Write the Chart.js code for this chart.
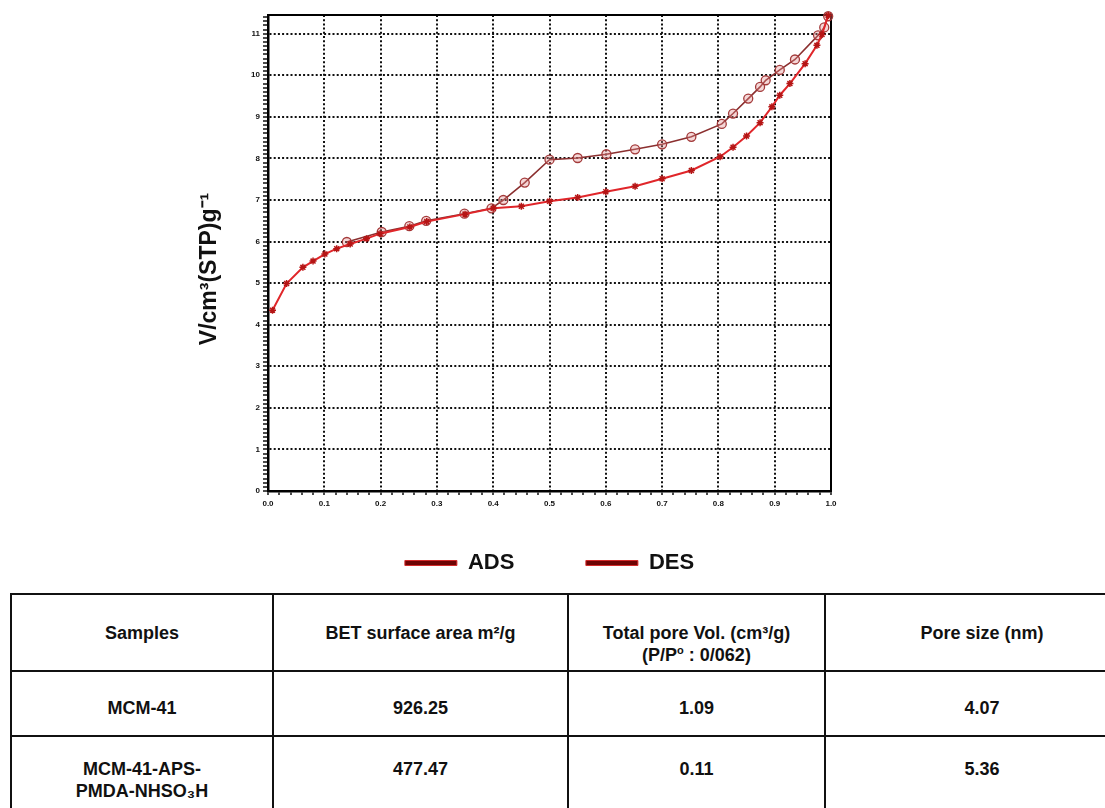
<!DOCTYPE html>
<html>
<head>
<meta charset="utf-8">
<script src="https://cdn.jsdelivr.net/npm/chart.js@4.4.0/dist/chart.umd.min.js"></script>
<style>
    body {
        margin: 0;
        width: 1105px;
        height: 808px;
        overflow: hidden;
        position: relative;
        background: #fff;
        font-family: "Liberation Sans", Arial, sans-serif;
    }
    #chartBox { position: absolute; left: 0; top: 0; }
    #poreTable {
        position: absolute;
        left: 10px;
        top: 593px;
        width: 1120px;
        border-collapse: collapse;
        table-layout: fixed;
    }
    #poreTable td {
        border: 2px solid #111;
        text-align: center;
        vertical-align: top;
        font-weight: bold;
        font-size: 18px;
        line-height: 22px;
        color: #111;
        padding: 0;
    }
    #poreTable sup, #poreTable sub { line-height: 0; font-size: 11px; }
</style>
</head>
<body>
<div id="chartBox"><canvas id="isoChart" width="1105" height="584"></canvas></div>
<table id="poreTable"></table>
<script>
// isotherm points (P/P0, volume)
const adsP = [0.008, 0.033, 0.062, 0.08, 0.101, 0.122, 0.146, 0.175, 0.199, 0.252, 0.282, 0.35, 0.40, 0.45, 0.50, 0.55, 0.60, 0.652, 0.70, 0.752, 0.803, 0.826, 0.85, 0.874, 0.895, 0.909, 0.927, 0.954, 0.975, 0.984, 0.995];
const adsV = [4.35, 4.99, 5.38, 5.53, 5.70, 5.83, 5.94, 6.07, 6.19, 6.35, 6.48, 6.66, 6.80, 6.85, 6.97, 7.06, 7.20, 7.33, 7.51, 7.71, 8.04, 8.27, 8.54, 8.86, 9.24, 9.52, 9.80, 10.28, 10.72, 10.98, 11.44];
const desP = [0.995, 0.988, 0.977, 0.936, 0.909, 0.884, 0.874, 0.853, 0.826, 0.806, 0.752, 0.70, 0.652, 0.601, 0.55, 0.50, 0.456, 0.418, 0.397, 0.349, 0.281, 0.251, 0.202, 0.14];
const desV = [11.42, 11.15, 10.96, 10.38, 10.13, 9.88, 9.72, 9.44, 9.08, 8.83, 8.52, 8.34, 8.22, 8.10, 8.01, 7.97, 7.42, 7.00, 6.80, 6.67, 6.50, 6.37, 6.23, 5.99];

const seriesLabels = ['ADS', 'DES'];
const yTitle = 'V/cm³(STP)g⁻¹';

// table below the plot
const tableHead = ['Samples', 'BET surface area m²/g', 'Total pore Vol. (cm³/g)<br>(P/P<sup>o</sup> : 0/062)', 'Pore size (nm)'];
const samples = ['MCM-41', 'MCM-41-APS-<br>PMDA-NHSO₃H'];
const betArea = ['926.25', '477.47'];
const poreVol = ['1.09', '0.11'];
const poreSize = ['4.07', '5.36'];

const isMajor = (v, step) => Math.abs(v / step - Math.round(v / step)) < 1e-6;
const toPoints = (xs, ys) => xs.map((x, i) => ({x, y: ys[i]}));
const pad = n => '\u00a0'.repeat(n);

const dotted = {display: true, color: '#000', width: 2.5, dash: [2, 2.2]};
const tickFont = {size: 8, weight: 'bold', family: '"Liberation Sans", Arial'};

const gridFor = step => ({
    color: c => (c.tick && isMajor(c.tick.value, step)) ? '#111' : 'rgba(0,0,0,0)',
    lineWidth: 2,
    tickColor: '#111',
    tickWidth: 1.5
});

new Chart(document.getElementById('isoChart'), {
    type: 'scatter',
    data: {
        datasets: [{
            label: seriesLabels[0],
            data: toPoints(adsP, adsV),
            showLine: true,
            borderColor: '#e0262a',
            backgroundColor: '#6e0404',
            borderWidth: 2,
            pointStyle: 'star',
            pointRadius: 3.5,
            pointBorderColor: '#b51515',
            pointBackgroundColor: '#b51515',
            pointBorderWidth: 1.5,
            clip: false,
            xAxisID: 'x',
            yAxisID: 'y'
        }, {
            label: seriesLabels[1],
            data: toPoints(desP, desV),
            showLine: true,
            borderColor: '#8b2f2f',
            backgroundColor: '#6e0404',
            borderWidth: 1.6,
            pointStyle: 'circle',
            pointRadius: 4.5,
            pointBorderColor: '#a33a3a',
            pointBackgroundColor: 'rgba(225,140,140,0.35)',
            pointBorderWidth: 1.3,
            clip: false,
            xAxisID: 'x',
            yAxisID: 'y'
        }]
    },
    options: {
        responsive: false,
        animation: false,
        devicePixelRatio: 1,
        layout: {padding: {left: 190, right: 274, top: 15, bottom: 0}},
        scales: {
            x: {
                type: 'linear',
                position: 'bottom',
                min: 0,
                max: 1,
                bounds: 'data',
                afterFit: s => { s.height = 20; },
                ticks: {
                    stepSize: 0.02,
                    autoSkip: false,
                    maxRotation: 0,
                    includeBounds: false,
                    padding: 4,
                    font: tickFont,
                    color: '#111',
                    callback: v => isMajor(v, 0.1) ? v.toFixed(1) : ''
                },
                grid: {...gridFor(0.1), tickLength: 4},
                border: dotted
            },
            y: {
                type: 'linear',
                position: 'left',
                min: 0,
                max: 11.45,
                bounds: 'data',
                afterFit: s => { s.width = 78; },
                title: {
                    display: true,
                    text: yTitle + pad(5),
                    color: '#111',
                    font: {size: 23, weight: 'bold', family: '"Liberation Sans", Arial'},
                    padding: {top: 6, bottom: 0}
                },
                ticks: {
                    stepSize: 0.1,
                    autoSkip: false,
                    includeBounds: false,
                    padding: 3,
                    font: tickFont,
                    color: '#111',
                    callback: v => isMajor(v, 1) ? String(Math.round(v)) : ''
                },
                grid: {...gridFor(1), tickLength: 5},
                border: dotted
            },
            x2: {
                type: 'linear',
                position: 'top',
                afterFit: s => { s.height = 0; },
                ticks: {display: false},
                grid: {drawOnChartArea: false, drawTicks: false},
                border: {display: true, color: '#000', width: 2}
            },
            y2: {
                type: 'linear',
                position: 'right',
                afterFit: s => { s.width = 0; },
                ticks: {display: false},
                grid: {drawOnChartArea: false, drawTicks: false},
                border: {display: true, color: '#000', width: 2}
            }
        },
        plugins: {
            tooltip: {enabled: false},
            legend: {
                position: 'bottom',
                fullSize: false,
                labels: {
                    boxWidth: 52,
                    boxHeight: 5,
                    padding: 41,
                    color: '#111',
                    font: {size: 22, weight: 'bold', family: '"Liberation Sans", Arial'},
                    generateLabels: chart => Chart.defaults.plugins.legend.labels.generateLabels(chart)
                        .map((item, i) => ({
                            ...item,
                            text: i === 0 ? item.text + pad(5) : item.text,
                            strokeStyle: '#d42a2a',
                            lineWidth: 1
                        }))
                }
            }
        }
    }
});

// build the table from the arrays
const table = document.getElementById('poreTable');
const widths = [260, 293, 255, 312];
const addRow = (cells, height, padTop) => {
    const tr = document.createElement('tr');
    tr.style.height = height + 'px';
    cells.forEach((html, i) => {
        const td = document.createElement('td');
        td.innerHTML = html;
        td.style.width = widths[i] + 'px';
        td.style.paddingTop = padTop + 'px';
        tr.appendChild(td);
    });
    table.appendChild(tr);
};
addRow(tableHead, 77, 27);
samples.forEach((s, i) => addRow([s, betArea[i], poreVol[i], poreSize[i]], i === 0 ? 65 : 85, i === 0 ? 25 : 21));
</script>
</body>
</html>
